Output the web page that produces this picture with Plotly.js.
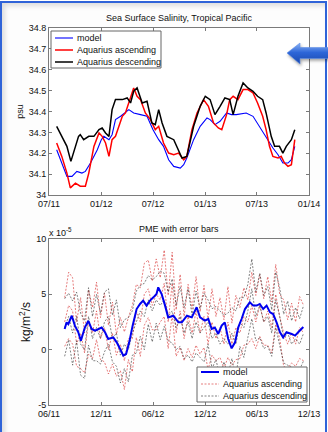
<!DOCTYPE html>
<html><head><meta charset="utf-8">
<script src="https://cdn.plot.ly/plotly-3.0.1.min.js"></script>
<style>
html,body{margin:0;padding:0;background:#fff;width:328px;height:432px;overflow:hidden;}
#frame{position:absolute;left:0;top:1px;width:323px;height:440px;border-left:2px solid #2f63d8;border-top:2px solid #2f63d8;border-right:2px solid #2f63d8;box-shadow:inset 3px 3px 5px rgba(0,0,0,0.13);background:#fdfdfd;}
#chart{position:absolute;left:0;top:0;width:328px;height:432px;}
#arrow{position:absolute;left:284px;top:40px;z-index:5;filter:drop-shadow(1px 2px 1.5px rgba(0,0,0,0.35));}
</style></head>
<body>
<div id="frame"></div>
<div id="chart"></div>
<svg id="arrow" width="46" height="28" viewBox="0 0 46 28">
<defs><linearGradient id="ag" x1="0" y1="0" x2="0" y2="1">
<stop offset="0" stop-color="#8db4f5"/><stop offset="0.45" stop-color="#2d66d8"/><stop offset="1" stop-color="#1a48ad"/></linearGradient></defs>
<path d="M3,13 L16,3 L16,7.5 L46,7.5 L46,18.5 L16,18.5 L16,24 Z" fill="url(#ag)" stroke="#5f8fe8" stroke-width="0.6"/>
</svg>
<script>
// ---------- Top panel: Sea Surface Salinity (psu) ----------
const sssModelDates = ['2011-07-28','2011-09-02','2011-09-20','2011-10-07','2011-10-25','2011-11-06','2011-11-24','2011-12-18','2012-01-01','2012-01-10','2012-01-28','2012-02-08','2012-02-20','2012-03-09','2012-04-07','2012-04-24','2012-05-18','2012-06-10','2012-07-01','2012-07-21','2012-08-07','2012-08-25','2012-09-12','2012-10-05','2012-10-17','2012-10-28','2012-11-21','2012-12-14','2013-01-07','2013-01-18','2013-02-04','2013-02-22','2013-03-17','2013-04-03','2013-04-20','2013-05-25','2013-06-18','2013-07-10','2013-08-03','2013-08-27','2013-09-14','2013-10-01','2013-10-19','2013-10-31','2013-11-12'];
const sssModel = [34.217,34.089,34.089,34.113,34.105,34.113,34.153,34.217,34.265,34.281,34.265,34.289,34.361,34.377,34.409,34.393,34.385,34.377,34.313,34.265,34.233,34.169,34.137,34.129,34.145,34.177,34.265,34.329,34.369,34.361,34.337,34.353,34.393,34.385,34.385,34.393,34.377,34.329,34.281,34.225,34.193,34.153,34.153,34.169,34.233];

const sssAscDates = ['2011-07-28','2011-08-15','2011-09-02','2011-09-14','2011-10-02','2011-10-19','2011-11-06','2011-11-18','2011-12-06','2011-12-24','2012-01-04','2012-01-16','2012-01-28','2012-02-08','2012-02-20','2012-03-03','2012-03-15','2012-03-26','2012-04-13','2012-04-24','2012-05-06','2012-05-18','2012-06-04','2012-06-22','2012-07-09','2012-07-21','2012-08-07','2012-08-25','2012-09-12','2012-09-29','2012-10-17','2012-10-28','2012-11-15','2012-12-03','2012-12-26','2013-01-12','2013-01-30','2013-02-16','2013-02-28','2013-03-17','2013-03-28','2013-04-09','2013-04-26','2013-05-14','2013-05-31','2013-06-18','2013-07-04','2013-07-22','2013-08-03','2013-08-15','2013-08-27','2013-09-14','2013-09-25','2013-10-07','2013-10-19','2013-10-31','2013-11-12'];
const sssAsc = [34.249,34.185,34.105,34.034,34.057,34.042,34.042,34.105,34.233,34.297,34.281,34.249,34.185,34.265,34.281,34.329,34.377,34.393,34.473,34.513,34.473,34.457,34.393,34.361,34.313,34.329,34.249,34.201,34.193,34.201,34.169,34.185,34.313,34.393,34.457,34.425,34.345,34.321,34.313,34.385,34.457,34.473,34.457,34.505,34.505,34.489,34.441,34.377,34.313,34.233,34.185,34.177,34.185,34.153,34.137,34.145,34.265];

const sssDescDates = ['2011-07-28','2011-08-15','2011-09-02','2011-09-16','2011-09-28','2011-10-13','2011-10-19','2011-10-31','2011-11-18','2011-12-06','2011-12-24','2012-01-04','2012-01-16','2012-01-28','2012-02-08','2012-02-20','2012-03-15','2012-04-01','2012-04-13','2012-04-24','2012-05-06','2012-05-24','2012-06-10','2012-06-27','2012-07-09','2012-07-21','2012-08-02','2012-08-19','2012-09-12','2012-09-23','2012-10-11','2012-10-28','2012-11-21','2012-12-14','2013-01-01','2013-01-18','2013-02-04','2013-02-22','2013-03-11','2013-03-28','2013-04-09','2013-04-26','2013-05-14','2013-05-31','2013-06-18','2013-07-04','2013-07-22','2013-08-03','2013-08-21','2013-09-02','2013-09-19','2013-10-01','2013-10-13','2013-10-31','2013-11-12'];
const sssDesc = [34.329,34.281,34.233,34.161,34.217,34.281,34.289,34.265,34.281,34.281,34.313,34.321,34.297,34.281,34.409,34.457,34.457,34.465,34.441,34.497,34.513,34.441,34.449,34.345,34.337,34.409,34.345,34.281,34.265,34.233,34.177,34.185,34.329,34.425,34.473,34.457,34.385,34.425,34.465,34.457,34.385,34.473,34.537,34.513,34.497,34.473,34.457,34.393,34.281,34.233,34.233,34.201,34.233,34.265,34.313];

const sssXTicks = ['2011-07-01','2012-01-01','2012-07-01','2013-01-01','2013-07-01','2014-01-01'];
const sssXTickText = ['07/11','01/12','07/12','01/13','07/13','01/14'];

// ---------- Bottom panel: PME (x 1e-5 kg/m^2/s) ----------
const pmeModelDates = ['2011-07-26','2011-08-02','2011-08-08','2011-08-20','2011-08-31','2011-09-12','2011-09-21','2011-10-05','2011-10-17','2011-10-29','2011-11-10','2011-11-21','2011-12-03','2011-12-15','2011-12-26','2012-01-13','2012-01-25','2012-02-06','2012-02-17','2012-02-27','2012-03-09','2012-03-21','2012-04-04','2012-04-16','2012-04-27','2012-05-09','2012-05-21','2012-06-02','2012-06-13','2012-06-19','2012-07-01','2012-07-13','2012-07-24','2012-08-11','2012-08-29','2012-09-10','2012-09-28','2012-10-15','2012-11-01','2012-11-13','2012-11-30','2012-12-12','2012-12-24','2013-01-04','2013-01-16','2013-01-28','2013-02-08','2013-02-20','2013-03-04','2013-03-16','2013-03-27','2013-04-08','2013-04-20','2013-05-07','2013-05-19','2013-05-31','2013-06-11','2013-06-23','2013-07-05','2013-07-17','2013-07-28','2013-08-09','2013-08-21','2013-09-01','2013-09-13','2013-10-01','2013-10-13','2013-10-24','2013-11-05','2013-11-11'];
const pmeModel = [1.87,2.47,2.3,3.07,2.17,1.57,0.81,2.0,2.6,1.87,1.72,1.87,2.0,1.57,0.96,1.11,0.66,0.06,-0.54,-0.39,0.66,2.17,3.67,4.13,4.43,3.98,4.43,4.73,5.03,5.63,5.03,3.98,2.92,3.07,2.47,2.47,3.07,2.92,3.83,2.92,2.62,2.77,1.87,2.0,1.42,2.17,2.47,0.96,0.12,0.66,2.0,2.77,3.67,4.28,3.98,3.98,4.13,3.67,3.98,3.37,3.22,2.47,1.57,1.11,1.57,1.42,1.27,1.57,1.87,2.05];

const pmeObsDates = ['2011-07-26','2011-08-09','2011-08-23','2011-09-06','2011-09-20','2011-10-04','2011-10-18','2011-11-01','2011-11-15','2011-11-29','2011-12-13','2011-12-27','2012-01-10','2012-01-24','2012-02-07','2012-02-21','2012-03-06','2012-03-20','2012-04-03','2012-04-17','2012-05-01','2012-05-15','2012-05-29','2012-06-12','2012-06-26','2012-07-10','2012-07-24','2012-08-07','2012-08-21','2012-09-04','2012-09-18','2012-10-02','2012-10-16','2012-10-30','2012-11-13','2012-11-27','2012-12-11','2012-12-25','2013-01-08','2013-01-22','2013-02-05','2013-02-19','2013-03-05','2013-03-19','2013-04-02','2013-04-16','2013-04-30','2013-05-14','2013-05-28','2013-06-11','2013-06-25','2013-07-09','2013-07-23','2013-08-06','2013-08-20','2013-09-03','2013-09-17','2013-10-01','2013-10-15','2013-10-29','2013-11-12'];
const pmeAscMid = [2.5,4.0,3.5,0.5,1.5,-0.3,2.5,1.5,3.5,1.0,2.0,0.0,1.5,-0.5,0.5,-1.0,1.0,1.0,3.5,2.5,5.0,5.5,4.0,5.0,4.5,6.0,2.5,6.0,1.5,3.5,1.0,3.0,1.5,3.5,1.5,3.0,0.5,2.5,1.0,2.0,0.5,2.5,0.5,2.0,1.5,3.0,2.5,4.0,2.5,4.0,2.5,3.5,2.0,5.0,3.0,1.5,0.5,1.5,0.5,2.0,1.5];
const pmeAscErr = [2.2,3.0,3.0,2.0,3.2,1.8,2.9,2.3,2.6,1.9,3.1,2.2,2.8,1.9,2.4,2.6,1.9,3.0,2.4,3.1,2.8,2.6,2.2,3.2,2.0,3.0,2.4,2.8,2.1,3.3,2.0,2.9,2.2,3.1,1.9,2.8,2.3,3.0,2.0,2.7,2.2,3.2,1.9,2.9,2.3,2.6,2.0,3.0,2.4,2.8,2.1,3.1,2.3,2.7,2.0,3.0,2.2,2.7,2.0,2.8,2.5];
const pmeDescMid = [2.0,3.0,1.5,3.0,0.5,0.0,3.0,1.0,2.0,1.0,2.5,3.0,1.0,1.5,-0.5,0.5,0.0,1.5,2.5,3.5,3.0,4.5,3.5,4.5,4.0,4.5,3.0,3.5,2.0,3.0,1.5,2.5,1.0,2.5,1.5,2.0,2.5,1.0,1.5,0.5,1.0,0.5,1.5,0.5,2.5,2.0,3.5,5.5,3.0,4.0,2.5,3.0,1.5,4.5,3.0,1.0,1.5,0.5,1.0,0.5,1.5];
const pmeDescErr = [2.6,2.1,2.9,2.2,2.8,2.6,2.6,2.0,3.0,2.3,2.7,2.5,2.1,3.0,2.5,2.2,2.9,2.0,2.8,2.3,3.0,2.2,2.8,2.1,3.1,2.4,2.2,2.9,2.0,2.7,2.3,3.0,2.1,2.8,2.2,3.1,2.0,2.7,2.4,3.0,2.1,2.8,2.3,3.0,2.2,2.7,2.4,2.7,2.2,2.9,2.4,2.7,2.1,2.5,2.6,2.2,2.9,2.1,2.8,2.3,2.5];

const pmeXTicks = ['2011-06-01','2011-12-01','2012-06-01','2012-12-01','2013-06-01','2013-12-01'];
const pmeXTickText = ['06/11','12/11','06/12','12/12','06/13','12/13'];
const pmeYTicks = [-5,0,5,10];
const pmeYTickText = ['-5','0','5','10'];

// ---------- build ----------
const W = 328, H = 432;
const fx = p => p / W, fy = p => 1 - p / H;
const ascColor = 'rgba(215,50,50,0.8)', descColor = 'rgba(45,45,45,0.75)';
const dashSty = '2px,1.5px';

const traces = [
  {x: sssModelDates, y: sssModel, name: 'model', mode: 'lines', line: {color: '#0000ff', width: 1.1}, xaxis: 'x', yaxis: 'y'},
  {x: sssAscDates, y: sssAsc, name: 'Aquarius ascending', mode: 'lines', line: {color: '#ff0000', width: 1.5}, xaxis: 'x', yaxis: 'y'},
  {x: sssDescDates, y: sssDesc, name: 'Aquarius descending', mode: 'lines', line: {color: '#000000', width: 1.5}, xaxis: 'x', yaxis: 'y'}
];
const bands = [
  [pmeAscMid, pmeAscErr, ascColor, 'Aquarius ascending'],
  [pmeDescMid, pmeDescErr, descColor, 'Aquarius descending']
];
bands.forEach(([mid, err, col, nm]) => {
  const up = mid.map((v, i) => v + err[i]);
  const lo = mid.map((v, i) => v - err[i]);
  [lo, mid, up].forEach(arr => traces.push({x: pmeObsDates, y: arr, name: nm, mode: 'lines',
    line: {color: col, width: 0.8, dash: dashSty}, xaxis: 'x2', yaxis: 'y2'}));
});
traces.push({x: pmeModelDates, y: pmeModel, name: 'model', mode: 'lines', line: {color: '#0000ee', width: 2}, xaxis: 'x2', yaxis: 'y2'});

const axBase = {showline: true, linecolor: '#7a7a7a', linewidth: 1, mirror: 'allticks', ticks: 'inside', ticklen: 3,
  tickcolor: '#7a7a7a', showgrid: false, zeroline: false, tickfont: {size: 9, color: '#111'}};

const legendTop = {x0: 51, x1: 161, y0: 31, y1: 68, rows: [38, 50, 62], lx0: 55, lx1: 73, tx: 75,
  items: [['model', '#0000ff', 1.1, 'solid'], ['Aquarius ascending', '#ff0000', 1.5, 'solid'], ['Aquarius descending', '#000', 1.5, 'solid']]};
const legendBot = {x0: 197, x1: 307, y0: 367, y1: 402, rows: [372, 384, 396], lx0: 201, lx1: 219, tx: 221,
  items: [['model', '#0000ee', 2, 'solid'], ['Aquarius ascending', ascColor, 0.8, 'dash'], ['Aquarius descending', descColor, 0.8, 'dash']]};

const shapes = [], annotations = [];
[legendTop, legendBot].forEach(L => {
  shapes.push({type: 'rect', xref: 'paper', yref: 'paper', x0: fx(L.x0), x1: fx(L.x1), y0: fy(L.y1), y1: fy(L.y0),
    line: {color: '#666', width: 1}, fillcolor: '#fff'});
  L.items.forEach((it, i) => {
    shapes.push({type: 'line', xref: 'paper', yref: 'paper', x0: fx(L.lx0), x1: fx(L.lx1), y0: fy(L.rows[i]), y1: fy(L.rows[i]),
      line: {color: it[1], width: it[2], dash: it[3] === 'dash' ? dashSty : 'solid'}});
    annotations.push({xref: 'paper', yref: 'paper', x: fx(L.tx), y: fy(L.rows[i]), xanchor: 'left', yanchor: 'middle',
      text: it[0], showarrow: false, font: {size: 9, color: '#111'}});
  });
});
annotations.push({xref: 'paper', yref: 'paper', x: fx(179), y: fy(18), xanchor: 'center', yanchor: 'middle',
  text: 'Sea Surface Salinity, Tropical Pacific', showarrow: false, font: {size: 9, color: '#111'}});
annotations.push({xref: 'paper', yref: 'paper', x: fx(179), y: fy(229), xanchor: 'center', yanchor: 'middle',
  text: 'PME with error bars', showarrow: false, font: {size: 9, color: '#111'}});
annotations.push({xref: 'paper', yref: 'paper', x: fx(47), y: fy(232), xanchor: 'left', yanchor: 'middle',
  text: 'x 10<sup>-5</sup>', showarrow: false, font: {size: 9, color: '#111'}});

const layout = {
  width: W, height: H, margin: {l: 0, r: 0, t: 0, b: 0},
  paper_bgcolor: 'rgba(0,0,0,0)', plot_bgcolor: '#fff', showlegend: false,
  font: {family: 'Liberation Sans, Arial, sans-serif', size: 9, color: '#111'},
  xaxis: Object.assign({}, axBase, {domain: [fx(49), fx(309)], anchor: 'y', type: 'date',
    range: ['2011-07-01', '2014-01-01'], tickmode: 'array', tickvals: sssXTicks, ticktext: sssXTickText}),
  yaxis: Object.assign({}, axBase, {domain: [fy(195), fy(28)], anchor: 'x', range: [34, 34.8],
    tick0: 34, dtick: 0.1, title: {text: 'psu', standoff: 3, font: {size: 9}}}),
  xaxis2: Object.assign({}, axBase, {domain: [fx(49), fx(309)], anchor: 'y2', type: 'date',
    range: ['2011-06-01', '2013-12-01'], tickmode: 'array', tickvals: pmeXTicks, ticktext: pmeXTickText}),
  yaxis2: Object.assign({}, axBase, {domain: [fy(405), fy(239)], anchor: 'x2', range: [-5, 10],
    tickmode: 'array', tickvals: pmeYTicks, ticktext: pmeYTickText,
    title: {text: 'kg/m<sup>2</sup>/s', standoff: 2, font: {size: 12}}}),
  shapes: shapes, annotations: annotations
};
Plotly.newPlot('chart', traces, layout, {displayModeBar: false, staticPlot: true});
</script>
</body></html>
